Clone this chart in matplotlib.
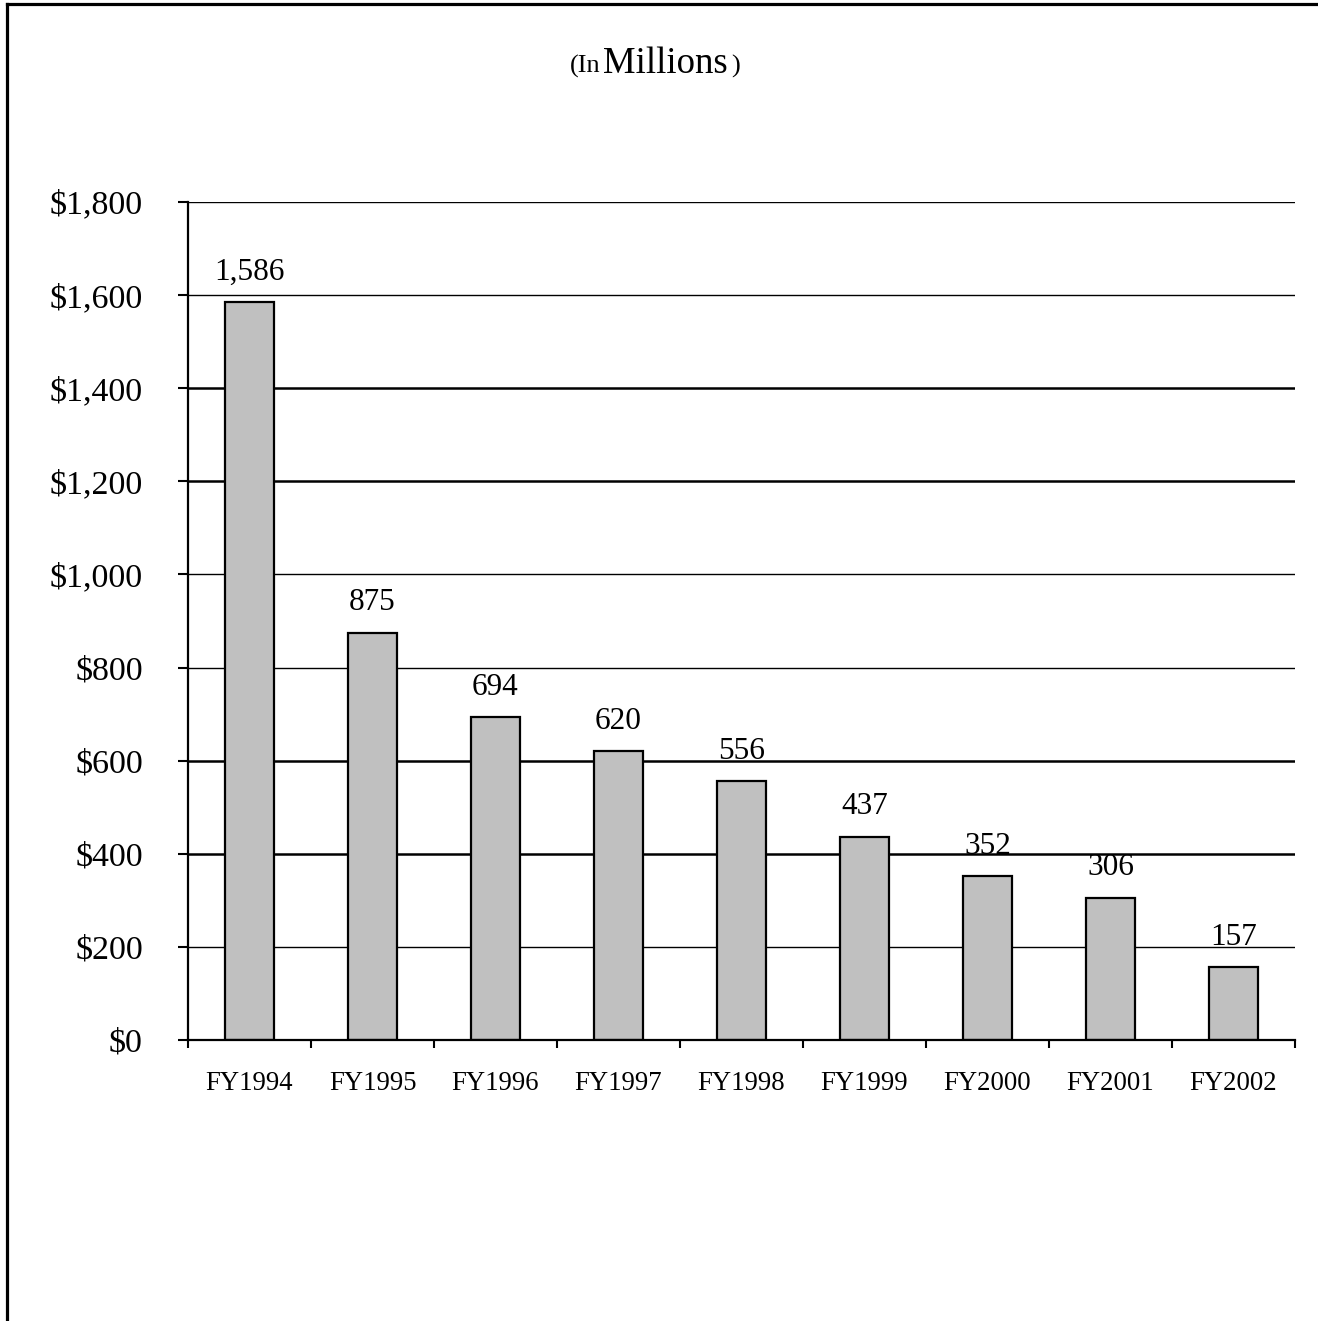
import matplotlib
matplotlib.use("Agg")
import matplotlib.pyplot as plt
from matplotlib.lines import Line2D
from matplotlib.ticker import FuncFormatter
import numpy as np

categories = ["FY1994", "FY1995", "FY1996", "FY1997", "FY1998",
              "FY1999", "FY2000", "FY2001", "FY2002"]
values = [1586, 875, 694, 620, 556, 437, 352, 306, 157]
value_labels = ["1,586", "875", "694", "620", "556", "437", "352", "306", "157"]
y_ticks = [0, 200, 400, 600, 800, 1000, 1200, 1400, 1600, 1800]

plt.rcParams['font.family'] = ['Liberation Serif', 'DejaVu Serif']

fig = plt.figure(figsize=(13.18, 13.21), dpi=100)
W, H = 1318, 1321
ax = fig.add_axes([188 / W, 1 - 1040 / H, (1295 - 188) / W, (1040 - 202) / H])

x = np.arange(len(categories))
ax.bar(x, values, width=0.4, color="#c0c0c0", edgecolor="black",
       linewidth=1.6, zorder=3)

for xi, v, lab in zip(x, values, value_labels):
    ax.annotate(lab, (xi, v), xytext=(0, 16), textcoords="offset points",
                ha="center", va="baseline", fontsize=22.5, zorder=1)

ax.set_xlim(-0.5, len(categories) - 0.5)
ax.set_ylim(0, 1800)
ax.set_yticks(y_ticks)
ax.yaxis.set_major_formatter(FuncFormatter(lambda v, p: f"${int(v):,}"))
ax.tick_params(axis="y", direction="out", length=7.5, width=1.5,
               labelsize=24.5, pad=25)

ax.set_xticks(x)
ax.set_xticklabels(categories)
ax.set_xticks(np.arange(-0.5, len(categories)), minor=True)
ax.tick_params(axis="x", which="major", length=0, labelsize=19.3, pad=22)
ax.tick_params(axis="x", which="minor", direction="out", length=6, width=1.5)

ax.yaxis.grid(True, color="black", linewidth=1.0, zorder=0)
ax.set_axisbelow(True)
thick = {400, 600, 1200, 1400}
for val, gl in zip(y_ticks, ax.yaxis.get_gridlines()):
    if val in thick:
        gl.set_linewidth(1.8)

for s in ["top", "right"]:
    ax.spines[s].set_visible(False)
for s in ["left", "bottom"]:
    ax.spines[s].set_linewidth(1.6)
    ax.spines[s].set_zorder(4)

# Title "(In Millions)" with mixed sizes
base_y = 1 - 73 / H
fig.text(570 / W, base_y, "(In", ha="left", va="baseline", fontsize=19)
fig.text(603 / W, base_y, "Millions", ha="left", va="baseline", fontsize=26.5)
fig.text(731 / W, base_y, ")", ha="left", va="baseline", fontsize=19)

# Figure border (left and top)
fig.add_artist(Line2D([7 / W, 7 / W], [0, 1 - 4 / H], color="black",
                      linewidth=2.3, transform=fig.transFigure))
fig.add_artist(Line2D([7 / W, 1], [1 - 4 / H, 1 - 4 / H], color="black",
                      linewidth=2.3, transform=fig.transFigure))

fig.savefig("out.png", dpi=100)
